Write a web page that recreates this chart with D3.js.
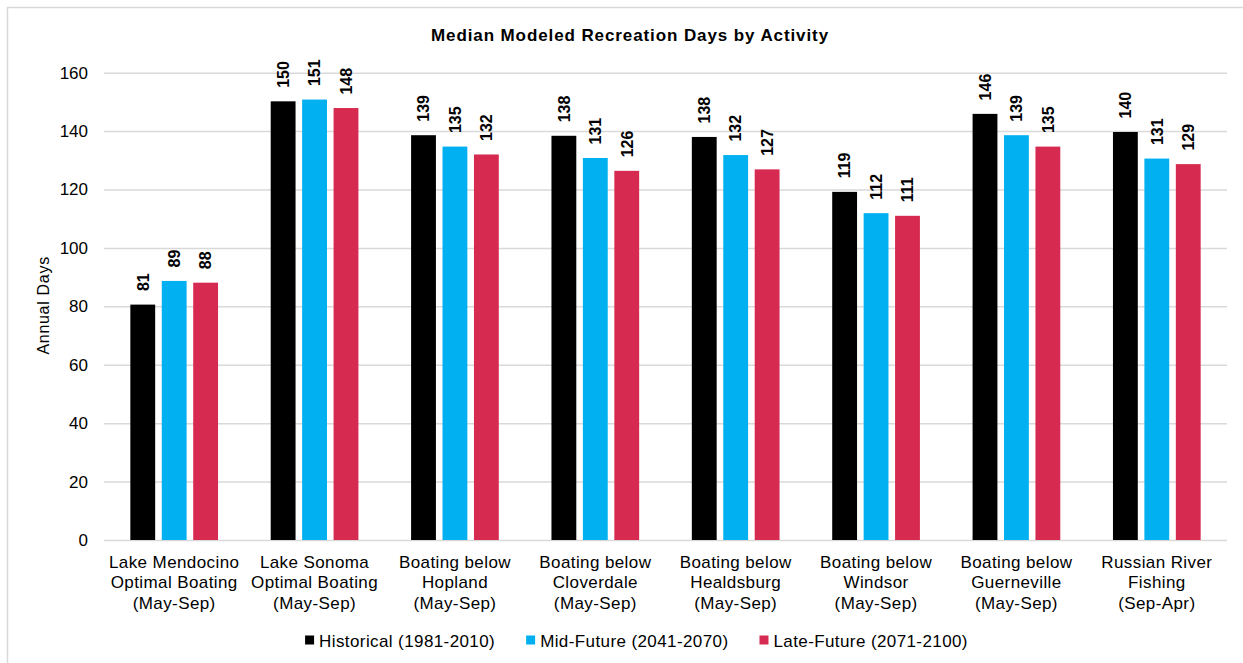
<!DOCTYPE html>
<html>
<head>
<meta charset="utf-8">
<script src="https://cdn.jsdelivr.net/npm/d3@7"></script>
<style>
  body { margin: 0; background: #fff; }
  svg { display: block; font-family: "Liberation Sans", Arial, sans-serif; }
</style>
</head>
<body>
<div id="chart"></div>
<script>
// categories, one entry per label line
var categories = [
    ["Lake Mendocino", "Optimal Boating", "(May-Sep)"],
    ["Lake Sonoma", "Optimal Boating", "(May-Sep)"],
    ["Boating below", "Hopland", "(May-Sep)"],
    ["Boating below", "Cloverdale", "(May-Sep)"],
    ["Boating below", "Healdsburg", "(May-Sep)"],
    ["Boating below", "Windsor", "(May-Sep)"],
    ["Boating below", "Guerneville", "(May-Sep)"],
    ["Russian River", "Fishing", "(Sep-Apr)"]
];

var seriesNames = ["Historical (1981-2010)", "Mid-Future (2041-2070)", "Late-Future (2071-2100)"];
var seriesColors = ["#000000", "#00b0f0", "#d62a50"];

var historical = [80.6, 150.2, 138.6, 138.4, 138.0, 119.2, 145.9, 139.7];
var midFuture  = [88.7, 150.8, 134.7, 130.8, 131.8, 111.9, 138.6, 130.6];
var lateFuture = [88.1, 147.9, 132.0, 126.4, 126.9, 111.0, 134.7, 128.7];

var yTicks = [0, 20, 40, 60, 80, 100, 120, 140, 160];

var title = "Median Modeled Recreation Days by Activity";
var yTitle = "Annual Days";

var width = 1243;
var height = 663;
var margin = {top: 72.7, right: 16, bottom: 123, left: 104};
var plotW = width - margin.left - margin.right;
var plotH = height - margin.top - margin.bottom;

var svg = d3.select("#chart")
    .append("svg")
    .attr("width", width)
    .attr("height", height);

svg.append("rect")
    .attr("width", width)
    .attr("height", height)
    .attr("fill", "#fff");

// chart border (runs off the right and bottom edges)
svg.append("rect")
    .attr("x", 7.5)
    .attr("y", 7.5)
    .attr("width", width + 20)
    .attr("height", height + 20)
    .attr("fill", "none")
    .attr("stroke", "#d9d9d9")
    .attr("stroke-width", 1.5);

var g = svg.append("g")
    .attr("transform", "translate(" + margin.left + "," + margin.top + ")");

var x0 = d3.scaleBand()
    .domain(d3.range(categories.length))
    .range([0, plotW]);

var groupW = 87.7;
var x1 = d3.scaleBand()
    .domain(d3.range(seriesNames.length))
    .range([(x0.bandwidth() - groupW) / 2, (x0.bandwidth() + groupW) / 2])
    .paddingInner(0.21);

var y = d3.scaleLinear()
    .domain([0, 160])
    .range([plotH, 0]);

var yAxis = g.append("g")
    .attr("class", "axis axis--y")
    .call(d3.axisLeft(y).tickValues(yTicks).tickSize(-plotW).tickPadding(16));

yAxis.select(".domain").remove();
yAxis.selectAll(".tick line")
    .attr("stroke", "#d9d9d9")
    .attr("stroke-width", 1.5);
yAxis.selectAll(".tick text")
    .attr("fill", "#000")
    .style("font-size", "17px");

var allSeries = [historical, midFuture, lateFuture];

var group = g.selectAll(".group")
    .data(categories)
    .enter().append("g")
    .attr("class", "group")
    .attr("transform", function(d, i) { return "translate(" + x0(i) + ",0)"; });

group.selectAll("rect")
    .data(function(d, i) {
        return allSeries.map(function(s, k) { return {k: k, value: s[i]}; });
    })
    .enter().append("rect")
    .attr("x", function(d) { return x1(d.k); })
    .attr("y", function(d) { return y(d.value); })
    .attr("width", x1.bandwidth())
    .attr("height", function(d) { return plotH - y(d.value); })
    .attr("fill", function(d) { return seriesColors[d.k]; });

var fmt = d3.format(".0f");
group.selectAll(".value")
    .data(function(d, i) {
        return allSeries.map(function(s, k) { return {k: k, value: s[i]}; });
    })
    .enter().append("text")
    .attr("class", "value")
    .attr("transform", function(d) {
        return "translate(" + (x1(d.k) + x1.bandwidth() / 2) + "," + (y(d.value) - 13.5) + ") rotate(-90)";
    })
    .attr("dy", "0.36em")
    .style("font-size", "16px")
    .style("font-weight", "bold")
    .text(function(d) { return fmt(d.value); });

// category labels
var catText = g.selectAll(".cat")
    .data(categories)
    .enter().append("text")
    .attr("class", "cat")
    .attr("text-anchor", "middle")
    .attr("transform", function(d, i) {
        return "translate(" + (x0(i) + x0.bandwidth() / 2) + "," + (plotH + 28) + ")";
    })
    .style("font-size", "17px")
    .style("letter-spacing", "0.4px");

catText.selectAll("tspan")
    .data(function(d) { return d; })
    .enter().append("tspan")
    .attr("x", 0)
    .attr("y", function(d, i) { return i * 20.3; })
    .text(function(d) { return d; });

// title
svg.append("text")
    .attr("x", 630)
    .attr("y", 41.3)
    .attr("text-anchor", "middle")
    .style("font-size", "17px")
    .style("font-weight", "bold")
    .style("letter-spacing", "0.9px")
    .text(title);

// y axis title
svg.append("text")
    .attr("transform", "translate(49," + (margin.top + plotH / 2 - 1) + ") rotate(-90)")
    .attr("text-anchor", "middle")
    .style("font-size", "16px")
    .style("letter-spacing", "0.7px")
    .text(yTitle);

// legend
var legend = svg.append("g").attr("class", "legend");
var items = legend.selectAll(".item")
    .data(seriesNames)
    .enter().append("g")
    .attr("class", "item");

items.append("rect")
    .attr("y", -11)
    .attr("width", 9)
    .attr("height", 9)
    .attr("fill", function(d, i) { return seriesColors[i]; });

items.append("text")
    .attr("x", 14)
    .style("font-size", "17px")
    .style("letter-spacing", "0.4px")
    .text(function(d) { return d; });

var offs = [];
var cursor = 0;
items.each(function() {
    offs.push(cursor);
    cursor += this.getBBox().width + 31;
});
var legendW = cursor - 31;
items.attr("transform", function(d, i) { return "translate(" + offs[i] + ",0)"; });
legend.attr("transform", "translate(" + (636.5 - legendW / 2) + ",646.5)");
</script>
</body>
</html>
